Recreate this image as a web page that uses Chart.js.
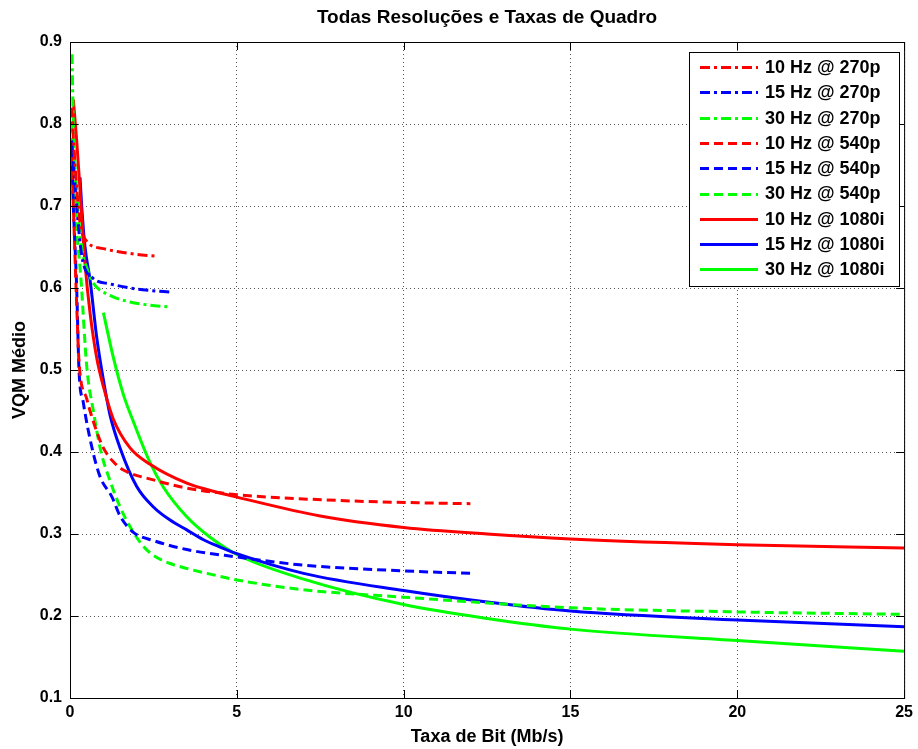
<!DOCTYPE html>
<html><head><meta charset="utf-8">
<script src="https://cdn.jsdelivr.net/npm/chart.js@4.4.0/dist/chart.umd.min.js"></script>
<style>html,body{margin:0;padding:0;background:#fff}#wrap{width:918px;height:749px}</style>
</head><body><div id="wrap"><canvas id="c" width="918" height="749"></canvas></div>
<script>
// ---- data ----
const chartTitle = 'Todas Resoluções e Taxas de Quadro';
const xTitle = 'Taxa de Bit (Mb/s)';
const yTitle = 'VQM Médio';
const seriesLabels = ['10 Hz @ 270p','15 Hz @ 270p','30 Hz @ 270p','10 Hz @ 540p','15 Hz @ 540p','30 Hz @ 540p','10 Hz @ 1080i','15 Hz @ 1080i','30 Hz @ 1080i'];

const r270_x = [0.05,0.15,0.3,0.5,1.0,1.5,2.0,2.55];
const r270_y = [0.82,0.75,0.68,0.657,0.648,0.644,0.641,0.639];
const b270_x = [0.05,0.2,0.35,0.66,1.2,1.8,2.4,3.0];
const b270_y = [0.78,0.70,0.64,0.613,0.605,0.600,0.597,0.595];
const g270_x = [0.06,0.1,0.2,0.35,0.5,0.7,1.2,1.8,2.4,2.95];
const g270_y = [0.885,0.80,0.72,0.65,0.625,0.606,0.591,0.583,0.579,0.577];

const r540_x = [0.05,0.1,0.2,0.27,0.5,0.8,1.0,1.3,1.6,2.5,3.5,5,8,10.5,12];
const r540_y = [0.76,0.70,0.58,0.51,0.465,0.425,0.405,0.388,0.378,0.366,0.356,0.348,0.341,0.338,0.337];
const b540_x = [0.05,0.1,0.2,0.27,0.4,0.66,0.9,1.26,1.5,1.9,2.5,3.5,5,7,10,12];
const b540_y = [0.77,0.70,0.60,0.50,0.46,0.405,0.37,0.345,0.322,0.302,0.292,0.281,0.272,0.262,0.255,0.252];
const g540_x = [0.05,0.15,0.33,0.5,0.7,0.93,1.2,1.5,1.9,2.2,2.5,3.0,3.5,4.0,5,7,10,15,20,25];
const g540_y = [0.80,0.70,0.61,0.505,0.45,0.40,0.365,0.333,0.302,0.285,0.274,0.264,0.258,0.253,0.244,0.232,0.223,0.210,0.205,0.202];

const r1080_x = [0.1,0.2,0.3,0.45,0.6,0.8,1.0,1.3,1.8,2.4,3.5,4.5,5,7.5,10,12.5,15,20,25];
const r1080_y = [0.83,0.78,0.72,0.63,0.57,0.515,0.48,0.44,0.405,0.385,0.362,0.35,0.345,0.322,0.308,0.300,0.294,0.287,0.283];
const b1080_x = [0.3,0.35,0.45,0.6,0.8,1.0,1.2,1.5,2.0,2.5,3.0,3.5,4.0,4.5,5,7,10,12.5,15,20,25];
const b1080_y = [0.735,0.70,0.65,0.61,0.54,0.488,0.445,0.405,0.358,0.333,0.317,0.305,0.293,0.284,0.276,0.252,0.231,0.217,0.206,0.195,0.187];
const g1080_x = [1.0,1.3,1.6,1.9,2.4,2.8,3.5,4.2,5,7,10,12.5,15,20,25];
const g1080_y = [0.57,0.515,0.47,0.437,0.387,0.357,0.321,0.296,0.275,0.245,0.214,0.197,0.184,0.170,0.157];

const xTicks = [0,5,10,15,20,25];
const yTicks = [0.1,0.2,0.3,0.4,0.5,0.6,0.7,0.8,0.9];

// ---- styles ----
const RED='#ff0000', BLUE='#0000ff', GREEN='#00ff00';
const DASHDOT=[10,4,3,4], DASHED=[9,5], SOLID=[];
const FONT='"Liberation Sans", Arial, sans-serif';

function pts(xs, ys){ return xs.map((x,i)=>({x:x, y:ys[i]})); }
const seriesData = [
  [r270_x,r270_y,RED,DASHDOT],[b270_x,b270_y,BLUE,DASHDOT],[g270_x,g270_y,GREEN,DASHDOT],
  [r540_x,r540_y,RED,DASHED],[b540_x,b540_y,BLUE,DASHED],[g540_x,g540_y,GREEN,DASHED],
  [r1080_x,r1080_y,RED,SOLID],[b1080_x,b1080_y,BLUE,SOLID],[g1080_x,g1080_y,GREEN,SOLID]
];
const datasets = seriesData.map((s,i)=>({
  label: seriesLabels[i], data: pts(s[0],s[1]), borderColor: s[2], backgroundColor: s[2],
  borderDash: s[3], borderWidth: 3, pointRadius: 0, fill:false, cubicInterpolationMode:'monotone'
}));

const framePlugin = {
  id:'frame',
  afterDraw(chart){
    const {ctx, chartArea:a} = chart;
    ctx.save();
    // title centred over the plot area
    ctx.fillStyle='#000'; ctx.font='bold 19px '+FONT; ctx.textAlign='center'; ctx.textBaseline='middle';
    ctx.fillText(chartTitle, (a.left+a.right)/2, 18);
    ctx.strokeStyle='#000'; ctx.lineWidth=1; ctx.setLineDash([]);
    ctx.strokeRect(a.left+0.5, a.top+0.5, a.right-a.left, a.bottom-a.top);
    const xs = chart.scales.x, ys = chart.scales.y;
    ctx.beginPath();
    xTicks.forEach(v=>{const p=Math.round(xs.getPixelForValue(v))+0.5; ctx.moveTo(p,a.bottom); ctx.lineTo(p,a.bottom-8); ctx.moveTo(p,a.top); ctx.lineTo(p,a.top+8);});
    yTicks.forEach(v=>{const p=Math.round(ys.getPixelForValue(v))+0.5; ctx.moveTo(a.left,p); ctx.lineTo(a.left+8,p); ctx.moveTo(a.right,p); ctx.lineTo(a.right-8,p);});
    ctx.stroke();
    // legend
    const L=689, T=52, W=210, H=234, rowH=25.3;
    ctx.fillStyle='#fff'; ctx.fillRect(L,T,W,H);
    ctx.strokeRect(L+0.5,T+0.5,W,H);
    ctx.font='bold 18px '+FONT; ctx.textBaseline='middle'; ctx.textAlign='left';
    chart.data.datasets.forEach((d,i)=>{
      const y = T+15+i*rowH;
      ctx.save();
      ctx.strokeStyle=d.borderColor; ctx.lineWidth=3; ctx.setLineDash(d.borderDash);
      ctx.beginPath(); ctx.moveTo(700,Math.round(y)+0.5); ctx.lineTo(758,Math.round(y)+0.5); ctx.stroke();
      ctx.restore();
      ctx.fillStyle='#000'; ctx.fillText(d.label, 765, y+1);
    });
    ctx.restore();
  }
};

new Chart(document.getElementById('c'), {
  type:'line',
  data:{datasets},
  options:{
    responsive:false, animation:false, devicePixelRatio:1,
    layout:{padding:{left:0,right:13,top:42,bottom:0}},
    plugins:{
      legend:{display:false}, tooltip:{enabled:false}, title:{display:false}
    },
    scales:{
      x:{type:'linear', min:0, max:25, afterFit(s){s.height=51;},
        afterBuildTicks(s){s.ticks = xTicks.map(v=>({value:v}));},
        ticks:{color:'#000', font:{family:FONT,size:16,weight:'bold'}, padding:5, callback:v=>String(v)},
        grid:{color:'#555', drawTicks:false, lineWidth:1}, border:{display:false, dash:[1,3]},
        title:{display:true, text:xTitle, color:'#000', font:{family:FONT,size:18,weight:'bold'}, padding:{top:2,bottom:1}}
      },
      y:{type:'linear', min:0.1, max:0.9, afterFit(s){s.width=70;},
        afterBuildTicks(s){s.ticks = yTicks.map(v=>({value:v}));},
        ticks:{color:'#000', font:{family:FONT,size:16,weight:'bold'}, padding:8, callback:v=>v.toFixed(1)},
        grid:{color:'#555', drawTicks:false, lineWidth:1}, border:{display:false, dash:[1,3]},
        title:{display:true, text:yTitle, color:'#000', font:{family:FONT,size:18,weight:'bold'}, padding:{top:9,bottom:0}}
      }
    }
  },
  plugins:[framePlugin]
});
</script></body></html>
